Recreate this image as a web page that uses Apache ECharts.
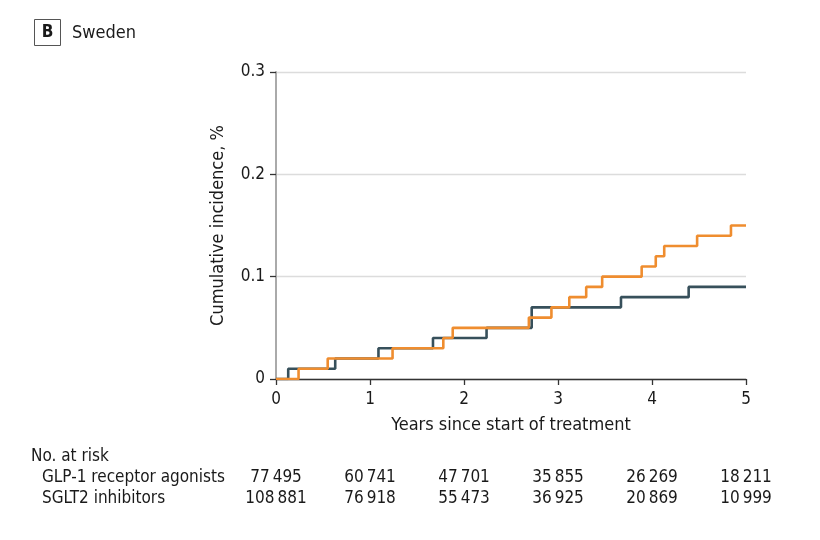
<!DOCTYPE html>
<html>
<head>
<meta charset="utf-8">
<script src="https://cdn.jsdelivr.net/npm/echarts@6/dist/echarts.min.js"></script>
<style>
html,body{margin:0;padding:0;background:#fff;}
#c{width:820px;height:540px;}
</style>
</head>
<body>
<div id="c"></div>
<script>
var FONT = '"Liberation Sans Narrow","DejaVu Sans Condensed","Noto Sans",sans-serif';
var panelLetter = 'B';
var panelTitle = 'Sweden';
var xTicks = [0, 1, 2, 3, 4, 5];
var yTicks = [0, 0.1, 0.2, 0.3];
var seriesNames = ['GLP-1 receptor agonists', 'SGLT2 inhibitors'];
var glp1Steps = [[0,0],[0.13,0.01],[0.63,0.02],[1.09,0.03],[1.67,0.04],[2.24,0.05],[2.72,0.07],[3.67,0.08],[4.39,0.09],[5,0.09]];
var sglt2Steps = [[0,0],[0.24,0.01],[0.55,0.02],[1.24,0.03],[1.78,0.04],[1.88,0.05],[2.69,0.06],[2.93,0.07],[3.12,0.08],[3.30,0.09],[3.47,0.10],[3.89,0.11],[4.04,0.12],[4.13,0.13],[4.48,0.14],[4.84,0.15],[5,0.15]];
var riskTimes = [0, 1, 2, 3, 4, 5];
var glp1AtRisk = ['77\u2009495','60\u2009741','47\u2009701','35\u2009855','26\u2009269','18\u2009211'];
var sglt2AtRisk = ['108\u2009881','76\u2009918','55\u2009473','36\u2009925','20\u2009869','10\u2009999'];

var chart = echarts.init(document.getElementById('c'));
var option = {
  animation: false,
  textStyle: {fontFamily: FONT},
  grid: {left: 276, right: 74, top: 72, bottom: 161},
  xAxis: {
    type: 'value', min: xTicks[0], max: xTicks[xTicks.length-1], interval: 1,
    name: 'Years since start of treatment', nameLocation: 'middle', nameGap: 37,
    nameTextStyle: {fontSize: 18, color: '#1a1a1a', fontFamily: FONT},
    axisLine: {show: true, lineStyle: {color: '#333', width: 1.3}},
    axisTick: {show: true, length: 6, lineStyle: {color: '#333', width: 1.3}},
    axisLabel: {fontSize: 17, color: '#1a1a1a', margin: 12, fontFamily: FONT},
    splitLine: {show: false}
  },
  yAxis: {
    type: 'value', min: yTicks[0], max: yTicks[yTicks.length-1], interval: 0.1,
    name: 'Cumulative incidence, %', nameLocation: 'middle', nameGap: 49,
    nameTextStyle: {fontSize: 18, color: '#1a1a1a', fontFamily: FONT},
    axisLine: {show: true, lineStyle: {color: '#aaa', width: 2}},
    axisTick: {show: true, length: 6, lineStyle: {color: '#333', width: 1.3}},
    axisLabel: {fontSize: 17, color: '#1a1a1a', margin: 11, fontFamily: FONT,
      formatter: function(v){ return v === 0 ? '0' : v.toFixed(1); }},
    splitLine: {show: true, lineStyle: {color: '#dcdcdc', width: 1.3}}
  },
  series: [
    {name: seriesNames[0], type: 'line', step: 'end', data: glp1Steps, showSymbol: false,
     lineStyle: {color: '#37505b', width: 2.6}, z: 2},
    {name: seriesNames[1], type: 'line', step: 'end', data: sglt2Steps, showSymbol: false,
     lineStyle: {color: '#ef8d2f', width: 2.6}, z: 3}
  ]
};
chart.setOption(option);

var g = [
  {type: 'rect', shape: {x: 34.5, y: 19.5, width: 26, height: 26}, style: {fill: '#fff', stroke: '#555', lineWidth: 1}},
  {type: 'text', x: 47.5, y: 33, style: {text: panelLetter, font: 'bold 17px ' + FONT, fill: '#1a1a1a', textAlign: 'center', textVerticalAlign: 'middle'}},
  {type: 'text', x: 72, y: 33, style: {text: panelTitle, font: '18px ' + FONT, fill: '#1a1a1a', textVerticalAlign: 'middle'}},
  {type: 'text', x: 31, y: 457, style: {text: 'No. at risk', font: '17px ' + FONT, fill: '#1a1a1a', textVerticalAlign: 'middle'}},
  {type: 'text', x: 42, y: 478, style: {text: seriesNames[0], font: '17px ' + FONT, fill: '#1a1a1a', textVerticalAlign: 'middle'}},
  {type: 'text', x: 42, y: 499, style: {text: seriesNames[1], font: '17px ' + FONT, fill: '#1a1a1a', textVerticalAlign: 'middle'}}
];
riskTimes.forEach(function(t, i){
  var px = chart.convertToPixel({xAxisIndex: 0}, t);
  g.push({type: 'text', x: px, y: 478, style: {text: glp1AtRisk[i], font: '17px ' + FONT, fill: '#1a1a1a', textAlign: 'center', textVerticalAlign: 'middle'}});
  g.push({type: 'text', x: px, y: 499, style: {text: sglt2AtRisk[i], font: '17px ' + FONT, fill: '#1a1a1a', textAlign: 'center', textVerticalAlign: 'middle'}});
});
chart.setOption({graphic: g});
</script>
</body>
</html>
